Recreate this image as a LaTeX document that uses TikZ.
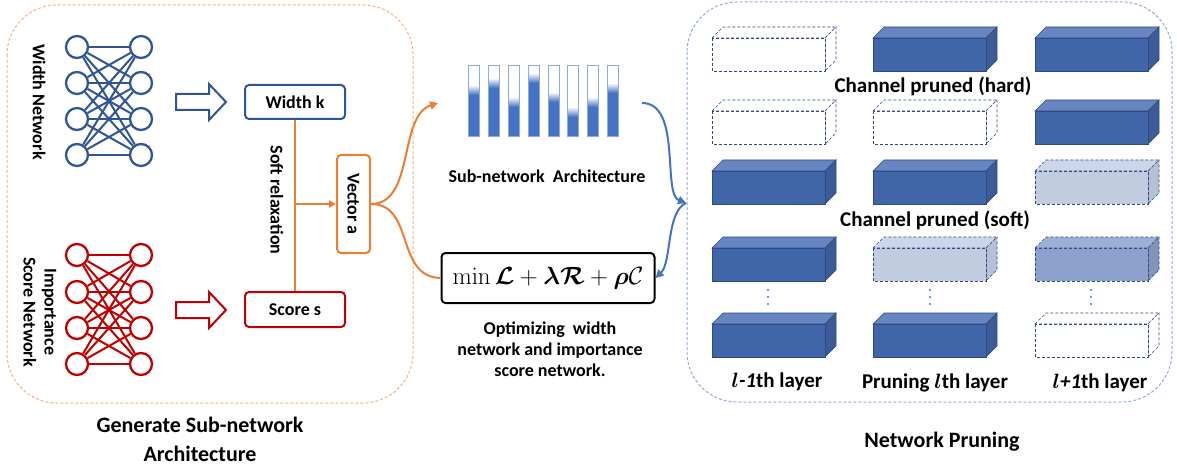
\documentclass[tikz,border=0pt]{standalone}
\usepackage[no-math]{fontspec}
\setmainfont{Carlito}
\usepackage{amsmath,bm,graphicx}
\usetikzlibrary{arrows.meta}
\definecolor{nblue}{HTML}{2F5597}
\definecolor{nred}{HTML}{C00000}
\definecolor{orng}{HTML}{ED7D31}
\definecolor{lblue}{HTML}{4472C4}
\definecolor{dborder}{HTML}{F4B183}
\definecolor{bborder}{HTML}{8FAADC}
\definecolor{cfront}{HTML}{4065A9}
\definecolor{ctop}{HTML}{6685C1}
\definecolor{cside}{HTML}{3C5B97}
\definecolor{cedge}{HTML}{2F4A80}
\definecolor{lfront}{HTML}{C1CCE1}
\definecolor{ltop}{HTML}{CDD6E8}
\definecolor{lside}{HTML}{B5C0D6}
\definecolor{mfront}{HTML}{8CA2CC}
\definecolor{mtop}{HTML}{9CB0D6}
\definecolor{mside}{HTML}{8195BC}
\tikzset{
  lbl/.style={font=\bfseries\fontsize{18}{21}\selectfont, inner sep=0pt, text=black},
  big/.style={font=\bfseries\fontsize{21}{25}\selectfont, inner sep=0pt, text=black},
  ttl/.style={font=\bfseries\fontsize{22}{29}\selectfont, inner sep=0pt, text=black, align=center},
  netc/.style={circle, minimum size=22pt, inner sep=0pt, line width=2.3pt, fill=white},
  box/.style={rectangle, rounded corners=4pt, line width=2pt, fill=white, inner sep=0pt,
              font=\bfseries\fontsize{18}{21}\selectfont},
  hollow/.style={line width=2pt, fill=white, line join=miter},
  cube-s-top/.style={fill=ctop, draw=cedge, line width=0.6pt},
  cube-s-side/.style={fill=cside, draw=cedge, line width=0.6pt},
  cube-s-front/.style={fill=cfront, draw=cedge, line width=0.6pt},
  cube-w-top/.style={fill=white, draw=cedge, line width=0.6pt, densely dashed},
  cube-w-side/.style={fill=white, draw=cedge, line width=0.6pt, densely dashed},
  cube-w-front/.style={fill=white, draw=cedge, line width=0.6pt, densely dashed},
  cube-l-top/.style={fill=ltop, draw=cedge, line width=0.6pt, densely dashed},
  cube-l-side/.style={fill=lside, draw=cedge, line width=0.6pt, densely dashed},
  cube-l-front/.style={fill=lfront, draw=cedge, line width=0.6pt, densely dashed},
  cube-m-top/.style={fill=mtop, draw=cedge, line width=0.6pt, densely dashed},
  cube-m-side/.style={fill=mside, draw=cedge, line width=0.6pt, densely dashed},
  cube-m-front/.style={fill=mfront, draw=cedge, line width=0.6pt, densely dashed},
  ocurve/.style={orng, line width=2pt},
  bcurve/.style={lblue, line width=2pt},
  tip/.style={-{Triangle[length=8pt,width=8pt]}}
}
\newcommand{\mycube}[3]{%
  \begin{scope}[shift={(#1,#2)}]
    \filldraw[cube-#3-top] (0,0) -- (11,-11) -- (124,-11) -- (113,0) -- cycle;
    \filldraw[cube-#3-side] (113,0) -- (124,-11) -- (124,22) -- (113,33) -- cycle;
    \filldraw[cube-#3-front] (0,0) rectangle (113,33);
  \end{scope}}
\newcommand{\mybar}[2]{%
  \fill[white] (#1,66) rectangle (#1+11,137);
  \shade[top color=white, bottom color=lblue] (#1,#2-10) rectangle (#1+11,#2);
  \fill[lblue] (#1,#2) rectangle (#1+11,137);
  \draw[bborder, line width=1pt] (#1,66) rectangle (#1+11,137);}
\newcommand{\hollowarrow}[3]{% x left, y centre, colour
  \begin{scope}[shift={(#1,#2)}]
    \draw[hollow, draw=#3] (0,-8) -- (33,-8) -- (33,-18) -- (50,0) -- (33,18) -- (33,8) -- (0,8) -- cycle;
  \end{scope}}
\begin{document}
\begin{tikzpicture}[x=1pt,y=-1pt]
\useasboundingbox (0,0) rectangle (1177,465);
% frames
\draw[dborder, dash pattern=on 3pt off 2pt, line width=1pt, rounded corners=50pt] (7,5) rectangle (413,403);
\draw[bborder, dash pattern=on 3pt off 2pt, line width=1pt, rounded corners=50pt] (687,2) rectangle (1172,402);

% width network
\foreach \i/\y in {1/47,2/83,3/119,4/155} {
  \node[netc, draw=nblue] (wl\i) at (77,\y) {};
  \node[netc, draw=nblue] (wr\i) at (141,\y) {};
}
\foreach \i in {1,...,4} \foreach \j in {1,...,4} \draw[nblue, line width=2pt] (wl\i) -- (wr\j);
% importance network
\foreach \i/\y in {1/255,2/292,3/328,4/364} {
  \node[netc, draw=nred] (sl\i) at (77,\y) {};
  \node[netc, draw=nred] (sr\i) at (141,\y) {};
}
\foreach \i in {1,...,4} \foreach \j in {1,...,4} \draw[nred, line width=2pt] (sl\i) -- (sr\j);

\node[lbl, rotate=-90] (wn) at (39,102) {Width Network};
\node[lbl, rotate=-90, align=center] (isn) at (40,312) {Importance\\Score Network};

\hollowarrow{176}{102}{nblue}
\hollowarrow{176}{310}{nred}

\node[box, draw=nblue, minimum width=100pt, minimum height=34pt] (wk) at (295,102) {Width k};
\node[box, draw=nred, minimum width=100pt, minimum height=35pt] (ss) at (295,309.5) {Score s};
\node[box, draw=orng, minimum width=33pt, minimum height=98pt] (va) at (353.5,204) {\rotatebox{-90}{Vector a}};
\draw[orng, line width=2pt] (wk.south) -- (ss.north);
\draw[orng, line width=2pt, -{Triangle[length=7pt,width=7pt]}] (wk.south |- va.west) -- (va.west);
\node[lbl, rotate=-90] (sr) at (277,200) {Soft relaxation};

\node[ttl] (gt) at (200,439) {Generate Sub-network\\Architecture};

% sub-network bars
\mybar{468}{95}
\mybar{488}{88}
\mybar{508}{107}
\mybar{528}{83}
\mybar{548}{102}
\mybar{567}{117}
\mybar{587}{107}
\mybar{607}{93}
\coordinate (barsL) at (438,103);
\coordinate (barsR) at (642,103);
\node[lbl] (sna) at (547,176) {Sub-network\ \ Architecture};

% objective
\node[box, draw=black, minimum width=213pt, minimum height=50pt, font=\fontsize{25}{28}\selectfont] (mb) at (548,278)
  {$\min \bm{\mathcal{L}} + \bm{\lambda}\bm{\mathcal{R}} + \bm{\rho}\mathcal{C}$};
\node[lbl, align=center] (opt) at (550,349) {Optimizing\ \ width\\network and importance\\score network.};

% orange connectors
\draw[ocurve, tip] (va.east) .. controls (415,204) and (398,116) .. (barsL);
\draw[ocurve] (va.east) .. controls (415,204) and (395,277) .. (mb.west);

% blue connectors
\coordinate (pj) at (686,203);
\draw[bcurve, tip] (barsR) .. controls (682,103) and (662,194) .. (pj);
\draw[bcurve, tip] (pj) .. controls (666,212) and (672,262) .. (mb.east);

% cubes
\mycube{712}{38}{w}
\mycube{873}{38}{s}
\mycube{1035}{38}{s}
\node[big] (cph) at (933,86) {Channel pruned (hard)};
\mycube{712}{111}{w}
\mycube{873}{111}{w}
\mycube{1035}{111}{s}
\mycube{712}{171}{s}
\mycube{873}{171}{s}
\mycube{1035}{171}{l}
\node[big] (cps) at (935,220) {Channel pruned (soft)};
\mycube{712}{248}{s}
\mycube{873}{248}{l}
\mycube{1035}{248}{m}
\foreach \x in {768,930,1091} \foreach \y in {290,297,304} \fill[lblue] (\x,\y) circle (1.1pt);
\mycube{712}{324}{s}
\mycube{873}{324}{s}
\mycube{1035}{324}{w}

\node[big] (l1) at (777,382) {{\boldmath$l$}\textit{-1}th layer};
\node[big] (l2) at (935,383) {Pruning {\boldmath$l$}th layer};
\node[big] (l3) at (1100,383) {{\boldmath$l$}\textit{+1}th layer};
\node[ttl] (np) at (942,442) {Network Pruning};
\end{tikzpicture}
\end{document}
